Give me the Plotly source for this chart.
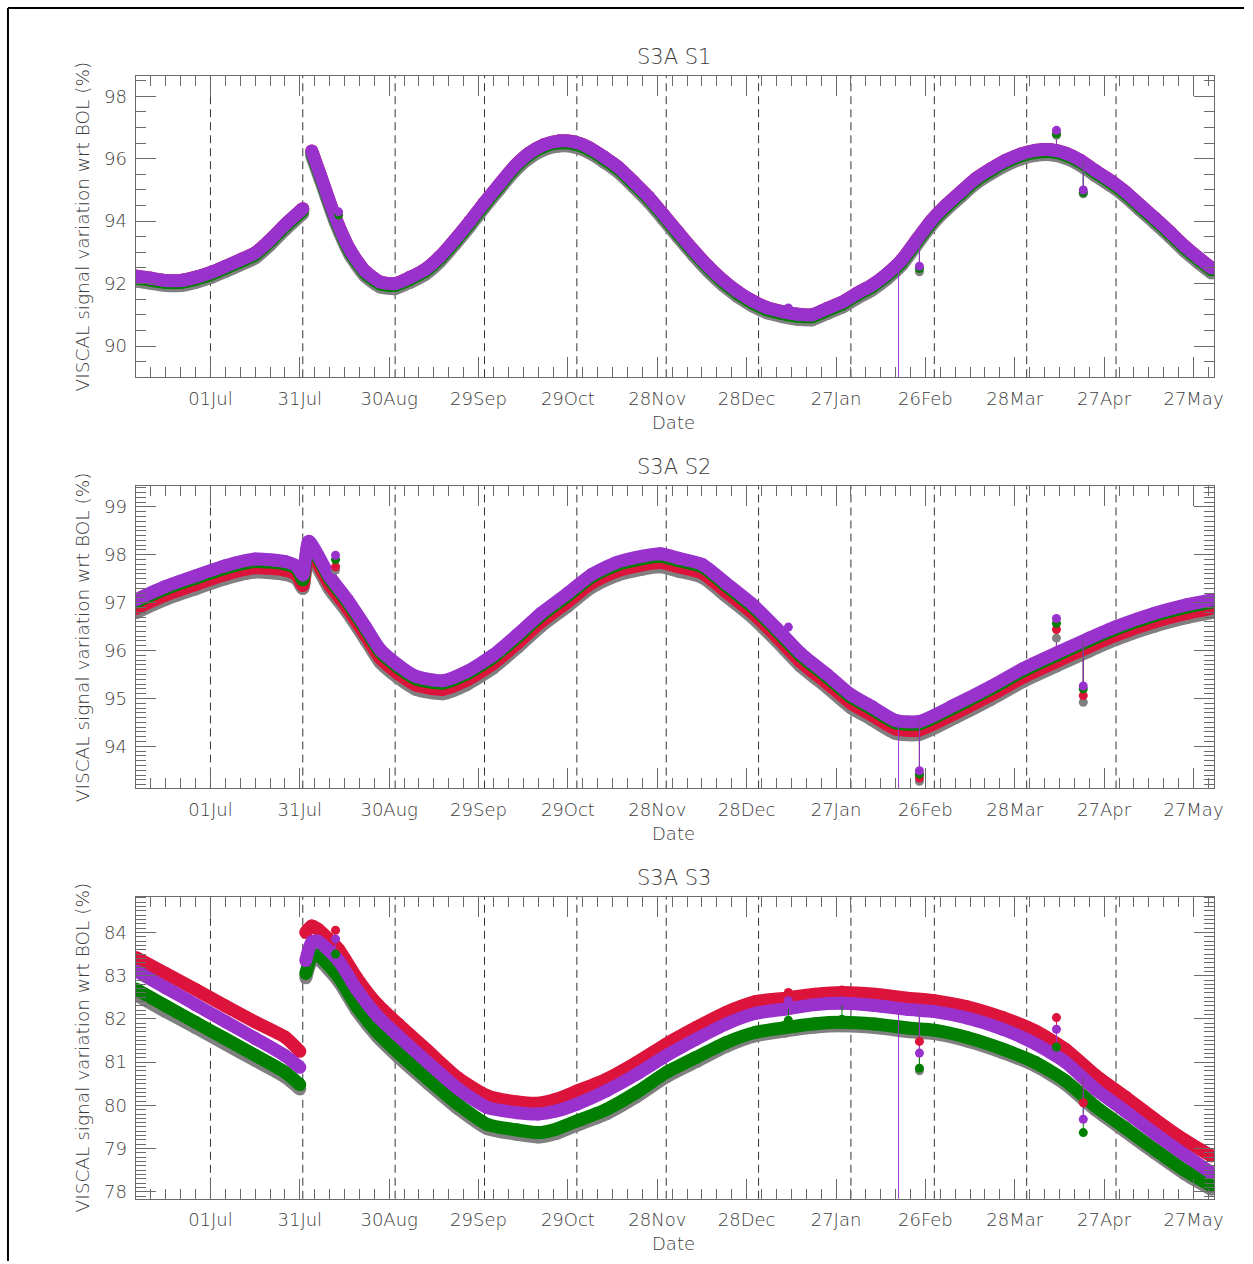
import plotly.graph_objects as go

W, H = 1253, 1264

# ---------------- DATA ----------------
# Panel 1 : S3A S1
s1_dates = ["2016-06-06", "2016-06-11", "2016-06-16", "2016-06-21", "2016-06-26", "2016-07-01",
            "2016-07-06", "2016-07-11", "2016-07-16", "2016-07-21", "2016-07-26", "2016-08-01", None,
            "2016-08-04", "2016-08-07", "2016-08-12", "2016-08-17", "2016-08-22", "2016-08-27", "2016-09-01",
            "2016-09-06", "2016-09-11", "2016-09-16", "2016-09-21", "2016-09-26",
            "2016-10-01", "2016-10-06", "2016-10-11", "2016-10-16", "2016-10-21", "2016-10-26", "2016-10-31",
            "2016-11-05", "2016-11-10", "2016-11-15", "2016-11-20", "2016-11-25", "2016-11-30",
            "2016-12-05", "2016-12-10", "2016-12-15", "2016-12-20", "2016-12-25", "2016-12-30",
            "2017-01-04", "2017-01-09", "2017-01-14", "2017-01-19", "2017-01-24", "2017-01-29",
            "2017-02-03", "2017-02-08", "2017-02-13", "2017-02-18", "2017-02-23", "2017-02-28",
            "2017-03-05", "2017-03-10", "2017-03-15", "2017-03-20", "2017-03-25", "2017-03-30",
            "2017-04-04", "2017-04-09", "2017-04-14", "2017-04-19", "2017-04-24", "2017-04-29",
            "2017-05-04", "2017-05-09", "2017-05-14", "2017-05-19", "2017-05-24", "2017-05-29",
            "2017-06-02"]
s1_purple = [92.24, 92.17, 92.10, 92.10, 92.20, 92.35, 92.55, 92.76, 92.98, 93.40, 93.88, 94.40, None,
             96.25, 95.45, 94.10, 93.05, 92.39, 92.05, 92.00,
             92.20, 92.45, 92.86, 93.40, 93.98,
             94.60, 95.18, 95.75, 96.18, 96.45, 96.57, 96.54,
             96.36, 96.06, 95.72, 95.26, 94.78, 94.22,
             93.64, 93.08, 92.56, 92.11, 91.74, 91.44,
             91.22, 91.10, 91.02, 91.00, 91.20, 91.40,
             91.69, 91.95, 92.30, 92.75, 93.39, 94.02,
             94.52, 94.95, 95.37, 95.68, 95.95, 96.15,
             96.27, 96.29, 96.18, 95.95, 95.62, 95.31,
             94.95, 94.52, 94.10, 93.66, 93.20, 92.80,
             92.50]
s1_red = [92.24, 92.17, 92.10, 92.10, 92.20, 92.35, 92.55, 92.76, 92.98, 93.40, 93.88, 94.40, None,
          96.25, 95.45, 94.10, 93.05, 92.39, 92.05, 92.00,
          92.20, 92.45, 92.86, 93.40, 93.98,
          94.60, 95.18, 95.75, 96.18, 96.45, 96.57, 96.54,
          96.36, 96.06, 95.72, 95.26, 94.78, 94.22,
          93.64, 93.08, 92.56, 92.11, 91.74, 91.44,
          91.22, 91.10, 91.02, 91.00, 91.20, 91.40,
          91.69, 91.95, 92.30, 92.75, 93.39, 94.02,
          94.52, 94.95, 95.37, 95.68, 95.95, 96.15,
          96.27, 96.29, 96.18, 95.95, 95.62, 95.31,
          94.95, 94.52, 94.10, 93.66, 93.20, 92.80,
          92.50]
s1_green = [92.18, 92.11, 92.04, 92.04, 92.14, 92.29, 92.49, 92.70, 92.92, 93.34, 93.82, 94.34, None,
            96.19, 95.39, 94.04, 92.99, 92.33, 91.99, 91.94,
            92.14, 92.39, 92.80, 93.34, 93.92,
            94.54, 95.12, 95.69, 96.12, 96.39, 96.51, 96.48,
            96.30, 96.00, 95.66, 95.20, 94.72, 94.16,
            93.58, 93.02, 92.50, 92.05, 91.68, 91.38,
            91.16, 91.04, 90.96, 90.94, 91.14, 91.34,
            91.63, 91.89, 92.24, 92.69, 93.33, 93.96,
            94.46, 94.89, 95.31, 95.62, 95.89, 96.09,
            96.21, 96.23, 96.12, 95.89, 95.56, 95.25,
            94.89, 94.46, 94.04, 93.60, 93.14, 92.74,
            92.44]
s1_gray = [92.08, 92.01, 91.94, 91.94, 92.04, 92.19, 92.39, 92.60, 92.82, 93.24, 93.72, 94.24, None,
           96.09, 95.29, 93.94, 92.89, 92.23, 91.89, 91.84,
           92.04, 92.29, 92.70, 93.24, 93.82,
           94.44, 95.02, 95.59, 96.02, 96.29, 96.41, 96.38,
           96.20, 95.90, 95.56, 95.10, 94.62, 94.06,
           93.48, 92.92, 92.40, 91.95, 91.58, 91.28,
           91.06, 90.94, 90.86, 90.84, 91.04, 91.24,
           91.53, 91.79, 92.14, 92.59, 93.23, 93.86,
           94.36, 94.79, 95.21, 95.52, 95.79, 95.99,
           96.11, 96.13, 96.02, 95.79, 95.46, 95.15,
           94.79, 94.36, 93.94, 93.50, 93.04, 92.64,
           92.34]
s1_out_dates = ["2016-08-13", "2017-01-11", "2017-02-17", "2017-02-24", "2017-04-11", "2017-04-20"]
s1_out_base = [93.95, 91.08, 92.70, 93.50, 96.25, 95.90]
s1_out_purple = [94.30, 91.22, 80.00, 92.56, 96.91, 95.00]
s1_out_red = [None, None, None, None, None, None]
s1_out_green = [94.20, None, None, 92.48, 96.80, 94.92]
s1_out_gray = [None, None, None, 92.38, 96.75, 94.88]

# Panel 2 : S3A S2
s2_dates = ["2016-06-06", "2016-06-16", "2016-06-26", "2016-07-06", "2016-07-16", "2016-07-26",
            "2016-07-30", "2016-08-01", "2016-08-03", "2016-08-10", "2016-08-16", "2016-08-22",
            "2016-08-27", "2016-09-02", "2016-09-08", "2016-09-17", "2016-09-25", "2016-10-04",
            "2016-10-12", "2016-10-20", "2016-10-29", "2016-11-06", "2016-11-14", "2016-11-23",
            "2016-11-29", "2016-12-05", "2016-12-13", "2016-12-21", "2016-12-30", "2017-01-07",
            "2017-01-15", "2017-01-24", "2017-02-01", "2017-02-08", "2017-02-16", "2017-02-24",
            "2017-03-08", "2017-03-20", "2017-03-31", "2017-04-11", "2017-04-22", "2017-05-01",
            "2017-05-14", "2017-05-25", "2017-06-02"]
s2_purple = [97.06, 97.34, 97.56, 97.77, 97.91, 97.86, 97.76, 97.58, 98.28, 97.55, 97.06, 96.50,
             96.02, 95.70, 95.46, 95.37, 95.56, 95.91, 96.33, 96.78, 97.20, 97.59, 97.83, 97.97,
             98.02, 97.93, 97.80, 97.41, 96.96, 96.47, 95.95, 95.50, 95.08, 94.83, 94.54, 94.52,
             94.87, 95.25, 95.63, 95.95, 96.26, 96.50, 96.78, 96.96, 97.06]
s2_green = [97.01, 97.29, 97.51, 97.72, 97.86, 97.81, 97.71, 97.48, 98.23, 97.50, 97.01, 96.45,
            95.97, 95.65, 95.41, 95.32, 95.51, 95.86, 96.28, 96.73, 97.15, 97.54, 97.78, 97.92,
            97.97, 97.88, 97.75, 97.36, 96.91, 96.42, 95.90, 95.45, 95.03, 94.78, 94.49, 94.47,
            94.82, 95.20, 95.58, 95.90, 96.21, 96.45, 96.73, 96.91, 97.01]
s2_red = [96.88, 97.16, 97.38, 97.59, 97.73, 97.68, 97.58, 97.36, 98.10, 97.37, 96.88, 96.32,
          95.84, 95.52, 95.28, 95.19, 95.38, 95.73, 96.15, 96.60, 97.02, 97.41, 97.65, 97.79,
          97.84, 97.75, 97.62, 97.23, 96.78, 96.29, 95.77, 95.32, 94.90, 94.65, 94.36, 94.34,
          94.69, 95.07, 95.45, 95.77, 96.08, 96.32, 96.60, 96.78, 96.88]
s2_gray = [96.79, 97.07, 97.29, 97.50, 97.64, 97.59, 97.49, 97.30, 98.01, 97.28, 96.79, 96.23,
           95.75, 95.43, 95.19, 95.10, 95.29, 95.64, 96.06, 96.51, 96.93, 97.32, 97.56, 97.70,
           97.75, 97.66, 97.53, 97.14, 96.69, 96.20, 95.68, 95.23, 94.81, 94.56, 94.27, 94.25,
           94.60, 94.98, 95.36, 95.68, 95.99, 96.23, 96.51, 96.69, 96.79]
s2_out_dates = ["2016-08-12", "2017-01-11", "2017-02-17", "2017-02-24", "2017-04-11", "2017-04-20"]
s2_out_base = [97.35, 96.33, 94.54, 94.52, 95.95, 96.20]
s2_out_purple = [97.99, 96.49, 90.00, 93.49, 96.67, 95.26]
s2_out_red = [97.75, None, None, 93.34, 96.44, 95.06]
s2_out_green = [97.90, None, None, 93.42, 96.57, 95.20]
s2_out_gray = [97.68, None, None, 93.27, 96.26, 94.92]

# Panel 3 : S3A S3
s3_dates = ["2016-06-06", "2016-06-16", "2016-06-26", "2016-07-06", "2016-07-16", "2016-07-26",
            "2016-07-31", None,
            "2016-08-02", "2016-08-04", "2016-08-06", "2016-08-13", "2016-08-19", "2016-08-26",
            "2016-09-02", "2016-09-12", "2016-09-22", "2016-10-02", "2016-10-12", "2016-10-19",
            "2016-10-25", "2016-11-01", "2016-11-11", "2016-11-21", "2016-12-01", "2016-12-11",
            "2016-12-21", "2016-12-31", "2017-01-10", "2017-01-20", "2017-01-29", "2017-02-09",
            "2017-02-20", "2017-03-01", "2017-03-12", "2017-03-24", "2017-04-04", "2017-04-14",
            "2017-04-24", "2017-05-04", "2017-05-14", "2017-05-24", "2017-06-02"]
s3_red = [83.42, 83.05, 82.68, 82.30, 81.93, 81.58, 81.25, None,
          84.00, 84.15, 84.08, 83.61, 82.96, 82.34, 81.88, 81.26, 80.64, 80.22, 80.08, 80.05,
          80.14, 80.33, 80.61, 80.99, 81.42, 81.80, 82.15, 82.40, 82.48, 82.57, 82.61, 82.57,
          82.48, 82.42, 82.28, 82.03, 81.72, 81.30, 80.70, 80.20, 79.68, 79.20, 78.83]
s3_purple = [83.11, 82.72, 82.33, 81.94, 81.55, 81.15, 80.88, None,
             83.35, 83.78, 83.80, 83.35, 82.69, 82.07, 81.61, 80.99, 80.39, 79.95, 79.83, 79.80,
             79.87, 80.03, 80.34, 80.72, 81.15, 81.53, 81.88, 82.13, 82.23, 82.33, 82.36, 82.31,
             82.22, 82.17, 82.02, 81.76, 81.42, 81.00, 80.38, 79.87, 79.35, 78.86, 78.44]
s3_green = [82.69, 82.30, 81.92, 81.54, 81.16, 80.77, 80.48, None,
            83.05, 83.45, 83.48, 82.97, 82.30, 81.69, 81.22, 80.61, 80.03, 79.56, 79.43, 79.37,
            79.45, 79.64, 79.91, 80.30, 80.76, 81.11, 81.45, 81.69, 81.80, 81.89, 81.92, 81.88,
            81.79, 81.74, 81.57, 81.30, 80.99, 80.57, 79.98, 79.48, 78.98, 78.50, 78.14]
s3_gray = [82.56, 82.17, 81.80, 81.42, 81.04, 80.66, 80.38, None,
           82.95, 83.35, 83.38, 82.87, 82.20, 81.59, 81.12, 80.51, 79.93, 79.46, 79.33, 79.27,
           79.35, 79.54, 79.81, 80.20, 80.66, 81.01, 81.36, 81.61, 81.72, 81.81, 81.84, 81.80,
           81.71, 81.66, 81.49, 81.22, 80.91, 80.49, 79.90, 79.40, 78.90, 78.42, 78.06]
s3_out_dates = ["2016-08-12", "2017-01-11", "2017-01-29", "2017-02-17", "2017-02-24", "2017-04-11", "2017-04-20"]
s3_out_base = [83.40, 82.23, 82.36, 82.25, 82.20, 81.12, 80.62]
s3_out_purple = [83.85, 82.42, 82.42, 70.00, 81.21, 81.76, 79.68]
s3_out_red = [84.05, 82.61, 82.67, None, 81.48, 82.03, 80.06]
s3_out_green = [83.50, 81.97, 81.99, None, 80.86, 81.35, 79.37]
s3_out_gray = [None, None, None, None, 80.80, None, None]

titles = ["S3A S1", "S3A S2", "S3A S3"]
y_ranges = [[89.0, 98.65], [93.12, 99.43], [77.84, 84.83]]
y_dticks = [2, 1, 1]
y_minor = [0.5, 0.1, 0.1]
month_starts = ["2016-07-01", "2016-08-01", "2016-09-01", "2016-10-01", "2016-11-01", "2016-12-01",
                "2017-01-01", "2017-02-01", "2017-03-01", "2017-04-01", "2017-05-01"]
x_range = ["2016-06-05 21:00", "2017-06-03 00:00"]
y_title = "VISCAL signal variation wrt BOL (%)"

# ---------------- STYLE ----------------
COL = {"gray": "#808080", "red": "#dc143c", "green": "#007f00", "purple": "#9932cc"}
ORDER = ["gray", "red", "green", "purple"]
FONT = "DejaVu Sans"
FW = 200
TXT = "#3c3c3c"
AX = "#6a6a6a"

# compensation for the small rescale seen in the rendered screenshot
SX, SY = 0.9958, 0.9970


def xp(px):
    return (px / SX) / W


def yp(py):
    return 1 - (py / SY) / H


boxes = [(76, 377), (486, 788), (896, 1198)]
X0, X1 = 136, 1218

panels = [
    (s1_dates, {"gray": s1_gray, "red": s1_red, "green": s1_green, "purple": s1_purple},
     s1_out_dates, s1_out_base, {"gray": s1_out_gray, "red": s1_out_red, "green": s1_out_green, "purple": s1_out_purple}),
    (s2_dates, {"gray": s2_gray, "red": s2_red, "green": s2_green, "purple": s2_purple},
     s2_out_dates, s2_out_base, {"gray": s2_out_gray, "red": s2_out_red, "green": s2_out_green, "purple": s2_out_purple}),
    (s3_dates, {"gray": s3_gray, "red": s3_red, "green": s3_green, "purple": s3_purple},
     s3_out_dates, s3_out_base, {"gray": s3_out_gray, "red": s3_out_red, "green": s3_out_green, "purple": s3_out_purple}),
]

fig = go.Figure()
shapes = []
annotations = []
DAY = 86400000

for i, (dates, series, odates, obase, outs) in enumerate(panels):
    xa = "x" if i == 0 else f"x{i+1}"
    ya = "y" if i == 0 else f"y{i+1}"
    for name in ORDER:
        fig.add_trace(go.Scatter(
            x=dates, y=series[name], mode="lines+markers", xaxis=xa, yaxis=ya,
            line=dict(color=COL[name], width=13, shape="spline", smoothing=0.6),
            marker=dict(color=COL[name], size=13), hoverinfo="skip", connectgaps=False))
    for name in ORDER:
        xs, ys = [], []
        for d, b, v in zip(odates, obase, outs[name]):
            if v is not None:
                xs += [d, d, None]
                ys += [b, v, None]
        if xs:
            fig.add_trace(go.Scatter(x=xs, y=ys, mode="lines", xaxis=xa, yaxis=ya,
                                     line=dict(color=COL[name], width=1), hoverinfo="skip"))
    for name in ORDER:
        fig.add_trace(go.Scatter(x=odates, y=outs[name], mode="markers", xaxis=xa, yaxis=ya,
                                 marker=dict(color=COL[name], size=9), hoverinfo="skip"))

    top, bot = boxes[i]
    axis_common = dict(showline=True, linecolor=AX, linewidth=1, mirror="allticks",
                       ticks="inside", tickcolor=AX, tickwidth=1, showgrid=False, zeroline=False,
                       tickfont=dict(family=FONT, size=18, color=TXT, weight=FW))
    fig.layout[f"xaxis{'' if i == 0 else i+1}"] = dict(
        domain=[xp(X0), xp(X1)], anchor=ya, type="date", range=x_range,
        tick0="2016-07-01", dtick=30 * DAY, tickformat="%d%b", ticklen=20,
        minor=dict(tick0="2016-07-01", dtick=5 * DAY, ticks="inside", ticklen=10,
                   tickcolor=AX, tickwidth=1, showgrid=False),
        ticklabelstandoff=5, **axis_common)
    fig.layout[f"yaxis{'' if i == 0 else i+1}"] = dict(
        domain=[yp(bot), yp(top)], anchor=xa, range=y_ranges[i], tick0=0, dtick=y_dticks[i], ticklen=20,
        minor=dict(tick0=0, dtick=y_minor[i], ticks="inside", ticklen=10,
                   tickcolor=AX, tickwidth=1, showgrid=False),
        ticklabelstandoff=4, **axis_common)

    for m in month_starts:
        shapes.append(dict(type="line", xref=xa, yref=f"{ya} domain", x0=m, x1=m, y0=0, y1=1,
                           line=dict(color="#333333", width=1, dash="8px,5px"), layer="below"))

    annotations.append(dict(text=titles[i], x=xp(676), y=yp(top - 19), xref="paper", yref="paper",
                            showarrow=False, xanchor="center", yanchor="middle",
                            font=dict(family=FONT, size=21, color=TXT, weight=FW)))
    annotations.append(dict(text="Date", x=xp(676), y=yp(bot + 45), xref="paper", yref="paper",
                            showarrow=False, xanchor="center", yanchor="middle",
                            font=dict(family=FONT, size=18, color=TXT, weight=FW)))
    annotations.append(dict(text=y_title, x=xp(83), y=yp((top + bot) / 2), xref="paper", yref="paper",
                            showarrow=False, xanchor="center", yanchor="middle", textangle=-90,
                            font=dict(family=FONT, size=18.5, color=TXT, weight=FW)))

shapes.append(dict(type="line", xref="paper", yref="paper", x0=xp(8), x1=1, y0=yp(8), y1=yp(8),
                   line=dict(color="black", width=2)))
shapes.append(dict(type="line", xref="paper", yref="paper", x0=xp(8), x1=xp(8), y0=0, y1=yp(8),
                   line=dict(color="black", width=2)))

fig.update_layout(width=W, height=H, margin=dict(l=0, r=0, t=0, b=0), showlegend=False,
                  paper_bgcolor="white", plot_bgcolor="white", shapes=shapes, annotations=annotations)

fig.write_html("out.html", config={"displayModeBar": False},
               post_script="document.body.style.margin='0px';document.body.style.overflow='hidden';"
                           "document.documentElement.style.overflow='hidden';")
